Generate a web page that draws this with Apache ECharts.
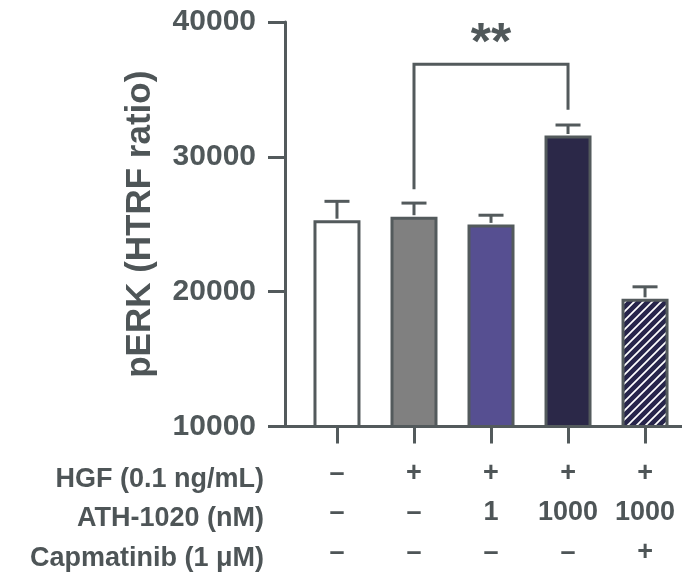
<!DOCTYPE html>
<html>
<head>
<meta charset="utf-8">
<script src="https://cdn.jsdelivr.net/npm/echarts@6/dist/echarts.min.js"></script>
<style>
html,body{margin:0;padding:0;background:#fff;}
#chart{width:682px;height:572px;}
</style>
</head>
<body>
<div id="chart"></div>
<script>
// ---- data ----
var groups = [1, 2, 3, 4, 5];
var means = [25300, 25560, 24990, 31580, 19470];
var upperErr = [26700, 26570, 25670, 32360, 20360];
var rowLabels = ['HGF (0.1 ng/mL)', 'ATH-1020 (nM)', 'Capmatinib (1 μM)'];
var rowHGF = ['–', '+', '+', '+', '+'];
var rowATH = ['–', '–', '1', '1000', '1000'];
var rowCap = ['–', '–', '–', '–', '+'];
var sigFrom = 2, sigTo = 4;
var sigTop = 36860, sigLeftEnd = 27600, sigRightEnd = 33500;
var sigLabel = '**';

// ---- styles ----
var LINE = '#535a5c';
var TEXT = '#4e5557';
var FONT = '"Liberation Sans", Arial, Helvetica, sans-serif';

function hatch() {
  var c = document.createElement('canvas');
  c.width = 9; c.height = 9;
  var g = c.getContext('2d');
  g.fillStyle = '#27254b';
  g.fillRect(0, 0, 9, 9);
  g.strokeStyle = '#ffffff';
  g.lineWidth = 1.7;
  g.beginPath();
  g.moveTo(-1, 10); g.lineTo(10, -1);
  g.moveTo(-1, 1); g.lineTo(1, -1);
  g.moveTo(8, 10); g.lineTo(10, 8);
  g.stroke();
  return c;
}
var fills = ['#ffffff', '#808080', '#564f91', '#2b2848', {image: hatch(), repeat: 'repeat'}];

var rows = [rowHGF, rowATH, rowCap];

var chart = echarts.init(document.getElementById('chart'), null, {renderer: 'canvas'});

var barData = groups.map(function (g, i) {
  return {value: [g, means[i]], itemStyle: {color: fills[i]}};
});
var errData = groups.map(function (g, i) { return [g, means[i], upperErr[i]]; });

chart.setOption({
  animation: false,
  backgroundColor: '#ffffff',
  grid: {left: 285, right: 0, top: 22, bottom: 139, containLabel: false},
  xAxis: {
    type: 'value',
    min: 0.325,
    max: 5.48,
    splitLine: {show: false},
    axisLine: {show: true, lineStyle: {color: LINE, width: 3}},
    axisTick: {show: true, length: 17, lineStyle: {color: LINE, width: 3}, customValues: groups},
    axisLabel: {
      show: true,
      customValues: groups,
      margin: 27,
      color: TEXT,
      fontFamily: FONT,
      fontWeight: 'bold',
      fontSize: 27,
      lineHeight: 39.5,
      formatter: function (v) {
        var i = Math.round(v) - 1;
        return rows.map(function (r) { return r[i]; }).join('\n');
      }
    }
  },
  yAxis: {
    type: 'value',
    min: 10000,
    max: 40000,
    interval: 10000,
    splitLine: {show: false},
    axisLine: {show: true, lineStyle: {color: LINE, width: 3}},
    axisTick: {show: true, length: 17, lineStyle: {color: LINE, width: 3}},
    axisLabel: {margin: 29, color: '#50585a', fontFamily: FONT, fontWeight: 'bold', fontSize: 30,
                formatter: function (v) { return String(v); }},
    name: 'pERK (HTRF ratio)',
    nameLocation: 'middle',
    nameGap: 127,
    nameTextStyle: {color: TEXT, fontFamily: FONT, fontWeight: 'bold', fontSize: 35}
  },
  series: [
    {
      type: 'bar',
      data: barData,
      barWidth: 47,
      itemStyle: {borderColor: LINE, borderWidth: 3},
      z: 2
    },
    {
      type: 'custom',
      data: errData,
      z: 3,
      renderItem: function (params, api) {
        var x = api.value(0);
        var p0 = api.coord([x, api.value(1)]);
        var p1 = api.coord([x, api.value(2)]);
        var hw = 12.5;
        var st = {stroke: LINE, lineWidth: 3};
        return {
          type: 'group',
          children: [
            {type: 'line', shape: {x1: p0[0], y1: p0[1] - 1.5, x2: p1[0], y2: p1[1]}, style: st},
            {type: 'line', shape: {x1: p1[0] - hw, y1: p1[1], x2: p1[0] + hw, y2: p1[1]}, style: st}
          ]
        };
      }
    },
    {
      type: 'custom',
      data: [[sigFrom, sigTo, sigTop, sigLeftEnd, sigRightEnd]],
      z: 3,
      clip: false,
      renderItem: function (params, api) {
        var a = api.coord([api.value(0), api.value(2)]);
        var b = api.coord([api.value(1), api.value(2)]);
        var la = api.coord([api.value(0), api.value(3)]);
        var rb = api.coord([api.value(1), api.value(4)]);
        return {
          type: 'group',
          children: [
            {type: 'polyline', shape: {points: [la, a, b, rb]}, style: {stroke: LINE, lineWidth: 3, fill: null}},
            {type: 'text', x: (a[0] + b[0]) / 2, y: a[1] + 6,
             style: {text: sigLabel, align: 'center', verticalAlign: 'bottom', fill: '#50585a',
                     font: 'bold 52px ' + FONT}}
          ]
        };
      }
    }
  ],
  graphic: rowLabels.map(function (t, i) {
    return {
      type: 'text',
      right: 682 - 264,
      top: 466 + i * 39.5,
      style: {text: t, fill: TEXT, font: 'bold 27px ' + FONT, align: 'right'}
    };
  })
});
</script>
</body>
</html>
